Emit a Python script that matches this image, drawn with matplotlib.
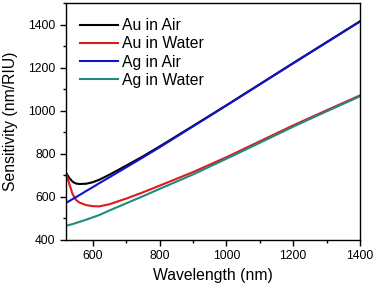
import matplotlib.pyplot as plt
from matplotlib.ticker import MultipleLocator

plt.rcParams['font.family'] = ['Liberation Sans', 'DejaVu Sans']

# 波長 (nm)
wl = [520, 530, 540, 550, 560, 580, 600, 620, 650, 700, 750, 800, 900, 1000, 1100, 1200, 1300, 1400]

# 感度 (nm/RIU)
au_air = [712, 688, 670, 662, 660, 661, 668, 680, 703, 745, 788, 834, 929, 1025, 1123, 1221, 1318, 1415]
au_water = [712, 660, 612, 586, 574, 562, 557, 556, 566, 592, 621, 652, 715, 784, 858, 932, 1002, 1071]
ag_air = [572, 581, 590, 599, 608, 627, 645, 664, 691, 737, 783, 830, 927, 1024, 1122, 1220, 1317, 1414]
ag_water = [466, 470, 474, 479, 484, 494, 505, 516, 537, 570, 603, 637, 704, 777, 851, 926, 997, 1067]

labels = ['Au in Air', 'Au in Water', 'Ag in Air', 'Ag in Water']
colors = ['#000000', '#e01a1a', '#1212c8', '#1e8a80']

fig = plt.figure(figsize=(3.76, 2.94), dpi=100)
ax = fig.add_axes([0.1755, 0.1837, 0.7819, 0.8061])

for y, lab, c in zip([au_air, au_water, ag_air, ag_water], labels, colors):
    ax.plot(wl, y, color=c, lw=1.5, label=lab)

ax.set_xlim(520, 1400)
ax.set_ylim(400, 1500)
ax.xaxis.set_major_locator(MultipleLocator(200))
ax.xaxis.set_minor_locator(MultipleLocator(100))
ax.yaxis.set_major_locator(MultipleLocator(200))
ax.yaxis.set_minor_locator(MultipleLocator(100))
ax.tick_params(which='major', direction='out', length=4, width=1, labelsize=8.7, top=False, right=False)
ax.tick_params(which='minor', direction='out', length=2.5, width=1, top=False, right=False)
for s in ax.spines.values():
    s.set_linewidth(1)

ax.set_xlabel('Wavelength (nm)', fontsize=11.3, labelpad=4)
ax.set_ylabel('Sensitivity (nm/RIU)', fontsize=11.3, labelpad=7)

ax.legend(loc='upper left', frameon=False, fontsize=11.3, handlelength=2.4,
          handletextpad=0.25, labelspacing=0.2, borderaxespad=0.5,
          bbox_to_anchor=(0.0, 0.995))

fig.savefig('out.png', dpi=100)
